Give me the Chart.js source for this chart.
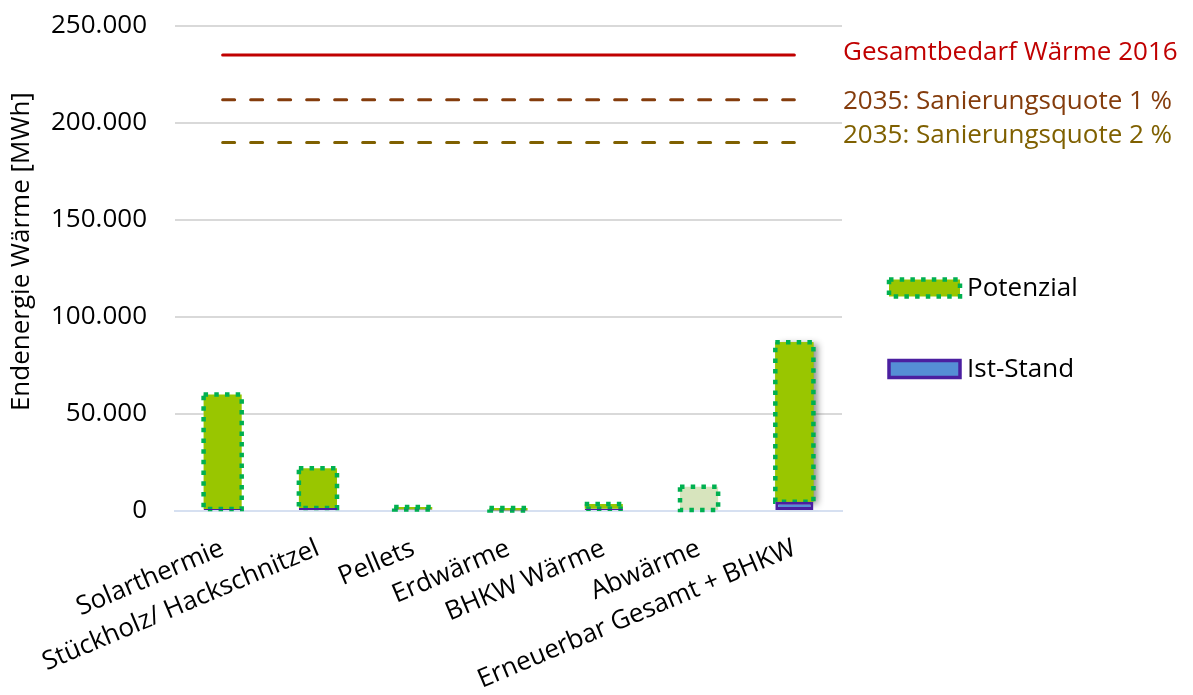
<!DOCTYPE html>
<html>
<head>
<meta charset="utf-8">
<script src="https://cdn.jsdelivr.net/npm/chart.js@4.4.0/dist/chart.umd.min.js"></script>
<style>
  html, body { margin: 0; padding: 0; background: #fff; }
  #wrap { width: 1193px; height: 695px; position: relative; }
</style>
</head>
<body>
<div id="wrap"><canvas id="chart"></canvas></div>
<script>
const categories = [
  "Solarthermie",
  "Stückholz/ Hackschnitzel",
  "Pellets",
  "Erdwärme",
  "BHKW Wärme",
  "Abwärme",
  "Erneuerbar Gesamt + BHKW"
];
const istStand = [1000, 1500, 800, 300, 1200, 0, 4800];
const potenzial = [59000, 20500, 1200, 1200, 2400, 12500, 82200];
const gesamtbedarf2016 = [235000, 235000, 235000, 235000, 235000, 235000, 235000];
const sanierung1 = [212000, 212000, 212000, 212000, 212000, 212000, 212000];
const sanierung2 = [190000, 190000, 190000, 190000, 190000, 190000, 190000];
const yTicks = [0, 50000, 100000, 150000, 200000, 250000];

const fmt = v => String(v).replace(/\B(?=(\d{3})+(?!\d))/g, ".");

Chart.defaults.font.family = "'Open Sans', sans-serif";
Chart.defaults.font.size = 26;
Chart.defaults.color = "#000";

const green = "#99c600";
const paleGreen = "#d7e4bd";
const dotGreen = "#00b050";

// dotted outline + shadow for the Potenzial bars (bars have no borderDash)
const dottedBars = {
  id: "dottedBars",
  beforeDatasetDraw(chart, args) {
    if (args.index !== 1) return;
    const ctx = chart.ctx;
    const bar = args.meta.data[args.meta.data.length - 1];
    ctx.save();
    ctx.shadowColor = "rgba(0,0,0,0.45)";
    ctx.shadowBlur = 7;
    ctx.shadowOffsetX = 5;
    ctx.shadowOffsetY = 2;
    ctx.fillStyle = green;
    ctx.fillRect(bar.x - bar.width / 2, bar.y, bar.width, bar.base - bar.y);
    ctx.restore();
  },
  afterDatasetDraw(chart, args) {
    if (args.index !== 1) return;
    const ctx = chart.ctx;
    ctx.save();
    ctx.strokeStyle = dotGreen;
    ctx.lineWidth = 4.5;
    ctx.setLineDash([4.5, 6.2]);
    args.meta.data.forEach(bar => {
      ctx.strokeRect(bar.x - bar.width / 2, bar.y, bar.width, bar.base - bar.y);
    });
    ctx.restore();
  }
};

// labels at the right end of the reference lines, and the bar legend
const sideLabels = {
  id: "sideLabels",
  afterDraw(chart) {
    const ctx = chart.ctx;
    const area = chart.chartArea;
    ctx.save();
    ctx.font = "26px 'Open Sans', sans-serif";
    ctx.textBaseline = "middle";
    ctx.textAlign = "left";
    const shifts = [-3, 1.5, -6.5];
    [2, 3, 4].forEach((di, k) => {
      const ds = chart.data.datasets[di];
      const pts = chart.getDatasetMeta(di).data;
      const last = pts[pts.length - 1];
      ctx.fillStyle = ds.borderColor;
      ctx.fillText(ds.label, area.right + 1, last.y + shifts[k]);
    });

    const lx = area.right + 47;
    const items = [
      { ds: chart.data.datasets[1], y: area.top + 262, dotted: true },
      { ds: chart.data.datasets[0], y: area.top + 343, dotted: false }
    ];
    items.forEach(it => {
      const w = 71, h = 17;
      const top = it.y - h / 2;
      if (it.dotted) {
        ctx.fillStyle = green;
        ctx.fillRect(lx, top, w, h);
        ctx.strokeStyle = dotGreen;
        ctx.lineWidth = 4.5;
        ctx.setLineDash([4.5, 6.2]);
        ctx.strokeRect(lx, top, w, h);
        ctx.setLineDash([]);
      } else {
        ctx.fillStyle = it.ds.backgroundColor;
        ctx.fillRect(lx, top, w, h);
        ctx.strokeStyle = it.ds.borderColor;
        ctx.lineWidth = 3.5;
        ctx.strokeRect(lx, top, w, h);
      }
      ctx.fillStyle = "#000";
      ctx.fillText(it.ds.label, lx + w + 7, it.y + 1);
    });
    ctx.restore();
  }
};

new Chart(document.getElementById("chart"), {
  data: {
    labels: categories,
    datasets: [
      {
        type: "bar",
        label: "Ist-Stand",
        data: istStand,
        stack: "bars",
        backgroundColor: "#558ed5",
        borderColor: "#4b1fa0",
        borderWidth: 3,
        borderSkipped: false,
        barPercentage: 0.4,
        categoryPercentage: 1
      },
      {
        type: "bar",
        label: "Potenzial",
        data: potenzial,
        stack: "bars",
        backgroundColor: categories.map((c, i) => i === 5 ? paleGreen : green),
        borderWidth: 0,
        barPercentage: 0.4,
        categoryPercentage: 1
      },
      {
        type: "line",
        label: "Gesamtbedarf Wärme 2016",
        data: gesamtbedarf2016,
        stack: "l1",
        borderColor: "#c00000",
        borderWidth: 3,
        pointRadius: 0,
        borderCapStyle: "round"
      },
      {
        type: "line",
        label: "2035: Sanierungsquote 1 %",
        data: sanierung1,
        stack: "l2",
        borderColor: "#843c0c",
        borderWidth: 3,
        borderDash: [12, 16],
        pointRadius: 0,
        borderCapStyle: "round"
      },
      {
        type: "line",
        label: "2035: Sanierungsquote 2 %",
        data: sanierung2,
        stack: "l3",
        borderColor: "#7f6000",
        borderWidth: 3,
        borderDash: [12, 16],
        pointRadius: 0,
        borderCapStyle: "round"
      }
    ]
  },
  options: {
    responsive: true,
    maintainAspectRatio: false,
    animation: false,
    layout: { padding: { left: 0, top: 26, right: 351, bottom: 0 } },
    plugins: { legend: { display: false }, tooltip: { enabled: false } },
    scales: {
      x: {
        stacked: true,
        grid: { display: false, drawTicks: false },
        border: { display: true, color: "#d6e0f1", width: 2 },
        ticks: { minRotation: 23, maxRotation: 23, autoSkip: false, padding: 22, color: "#000" },
        afterFit: s => { s.height = 184; }
      },
      y: {
        stacked: true,
        min: 0,
        max: 250000,
        afterBuildTicks: s => { s.ticks = yTicks.map(v => ({ value: v })); },
        grid: {
          color: c => c.tick && c.tick.value === 0 ? "#d6e0f1" : "#d9d9d9",
          lineWidth: 2,
          drawTicks: false
        },
        border: { display: false },
        ticks: { padding: 28, callback: v => fmt(v) },
        title: { display: true, text: "     Endenergie Wärme [MWh]", font: { size: 26 }, padding: 6 },
        afterFit: s => {
          s.width = 175;
          s.paddingTop = 0;
          s.paddingBottom = 0;
        }
      }
    }
  },
  plugins: [dottedBars, sideLabels]
});
</script>
</body>
</html>
